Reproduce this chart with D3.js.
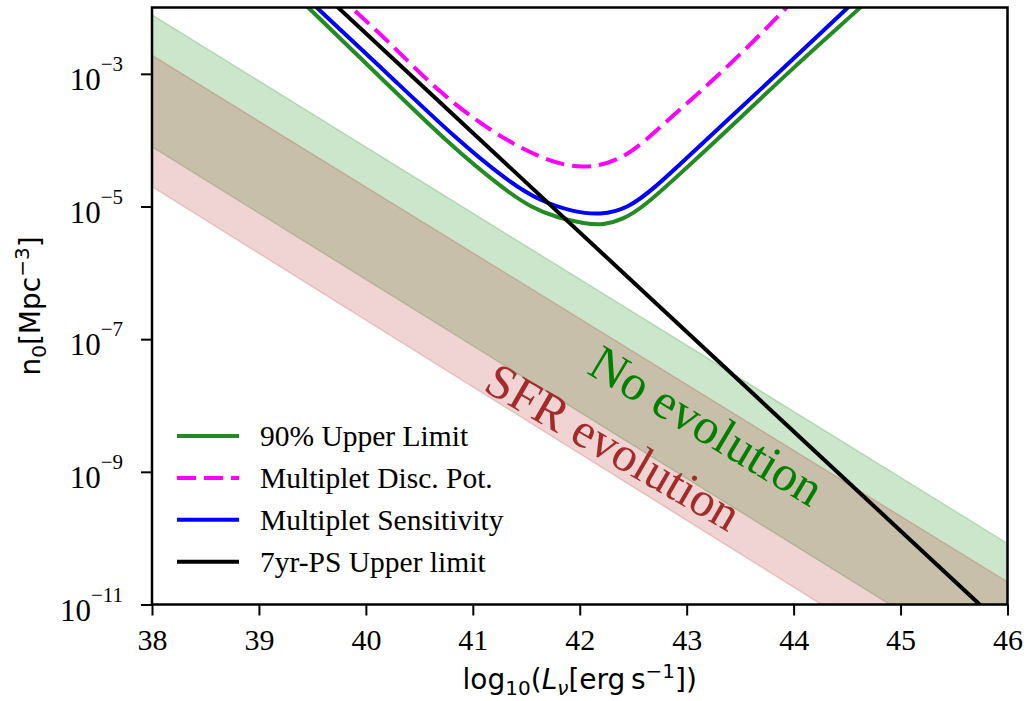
<!DOCTYPE html>
<html>
<head>
<meta charset="utf-8">
<script src="https://cdn.jsdelivr.net/npm/d3@7"></script>
<style>
  body { margin: 0; background: #fff; }
  svg { display: block; }
</style>
</head>
<body>
<script>
'use strict';

// x ticks (log10 L) and y ticks (n0 in Mpc^-3)
const lumTicks = [38, 39, 40, 41, 42, 43, 44, 45, 46];
const densTicks = [1e-3, 1e-5, 1e-7, 1e-9, 1e-11];

// shaded bands, log10(n0) at L = 38 and L = 46
const bandL = [38, 46];
const noEvoHigh = [-2.11, -10.08];
const noEvoLow = [-4.10, -12.10];
const sfrHigh = [-2.72, -10.66];
const sfrLow = [-4.70, -12.75];

// 90% upper limit curve (log10 L, log10 n0)
const ulL = [39.14, 39.46, 40.16, 40.79, 41.29, 41.54, 41.79, 42.05, 42.22, 42.40, 42.60, 42.91, 43.38, 44.00, 44.62, 44.96];
const ulN = [-1.50, -2.00, -3.09, -4.08, -4.74, -5.01, -5.17, -5.26, -5.28, -5.20, -5.00, -4.55, -3.85, -2.90, -2.01, -1.50];

// multiplet discovery potential
const dpL = [39.53, 39.87, 40.23, 40.69, 41.16, 41.63, 42.04, 42.44, 42.75, 43.22, 43.62, 43.93, 44.22];
const dpN = [-1.50, -2.01, -2.54, -3.29, -3.86, -4.28, -4.46, -4.27, -3.80, -3.14, -2.52, -2.01, -1.50];

// multiplet sensitivity
const sensL = [39.21, 39.54, 40.23, 40.85, 41.32, 41.63, 41.94, 42.19, 42.45, 42.70, 43.00, 43.38, 44.00, 44.50, 44.84];
const sensN = [-1.50, -2.00, -3.04, -3.99, -4.61, -4.92, -5.08, -5.13, -5.03, -4.72, -4.27, -3.70, -2.77, -2.01, -1.50];

// 7yr point source upper limit (straight line)
const psL = [39.40, 46.10];
const psN = [-1.49, -11.54];

const legendLabels = ['90% Upper Limit', 'Multiplet Disc. Pot.', 'Multiplet Sensitivity', '7yr-PS Upper limit'];

(function() {
  const width = 1027, height = 701;
  const plot = { left: 152, right: 1007.5, top: 7.5, bottom: 604.5 };
  const serif = '"Liberation Serif", "Times New Roman", serif';
  const sans = '"DejaVu Sans", sans-serif';

  let svg = d3.select('body').append('svg')
    .attr('width', width)
    .attr('height', height);

  let x = d3.scaleLinear().domain([38, 46]).range([plot.left, plot.right]);
  let y = d3.scaleLog().domain([1e-11, 1e-2]).range([plot.bottom, plot.top]);

  svg.append('clipPath').attr('id', 'clip')
    .append('rect')
      .attr('x', plot.left).attr('y', plot.top)
      .attr('width', plot.right - plot.left)
      .attr('height', plot.bottom - plot.top);

  let g = svg.append('g').attr('clip-path', 'url(#clip)');

  // bands
  function band(hi, lo, color) {
    let pts = bandL.map((l, i) => ({ l: l, hi: Math.pow(10, hi[i]), lo: Math.pow(10, lo[i]) }));
    let area = d3.area()
      .x((d) => x(d.l))
      .y0((d) => y(d.lo))
      .y1((d) => y(d.hi));
    g.append('path')
      .datum(pts)
      .attr('d', area)
      .attr('fill', color)
      .attr('fill-opacity', 0.2)
      .attr('stroke', color)
      .attr('stroke-opacity', 0.2)
      .attr('stroke-width', 1.5);
  }
  band(noEvoHigh, noEvoLow, '#008000');
  band(sfrHigh, sfrLow, '#b22222');

  // band labels
  g.append('text')
    .attr('transform', 'translate(698, 440) rotate(31)')
    .attr('text-anchor', 'middle')
    .style('font-family', serif)
    .style('font-size', '50px')
    .attr('fill', '#008000')
    .text('No evolution');

  g.append('text')
    .attr('transform', 'translate(605, 461) rotate(30)')
    .attr('text-anchor', 'middle')
    .style('font-family', serif)
    .style('font-size', '49px')
    .attr('fill', '#a52a2a')
    .text('SFR evolution');

  // curves
  let curves = [
    { L: ulL, N: ulN, color: '#228b22', dash: null },
    { L: dpL, N: dpN, color: '#ff00ff', dash: '19,8' },
    { L: sensL, N: sensN, color: '#0000ff', dash: null },
    { L: psL, N: psN, color: '#000000', dash: null }
  ];

  let line = d3.line()
    .x((d) => x(d[0]))
    .y((d) => y(Math.pow(10, d[1])))
    .curve(d3.curveBasis);

  curves.forEach((c) => {
    g.append('path')
      .datum(c.L.map((l, i) => [l, c.N[i]]))
      .attr('d', line)
      .attr('fill', 'none')
      .attr('stroke', c.color)
      .attr('stroke-width', 4)
      .attr('stroke-dasharray', c.dash);
  });

  // legend
  let legend = svg.append('g');
  curves.forEach((c, i) => {
    let ly = 436 + i * 41.9;
    legend.append('line')
      .attr('x1', 177).attr('x2', 239)
      .attr('y1', ly).attr('y2', ly)
      .attr('stroke', c.color)
      .attr('stroke-width', 4)
      .attr('stroke-dasharray', c.dash);
    legend.append('text')
      .attr('x', 260)
      .attr('y', ly + 10)
      .style('font-family', serif)
      .style('font-size', '29.5px')
      .attr('fill', '#000')
      .text(legendLabels[i]);
  });

  // x axis
  let xAxis = d3.axisBottom(x)
    .tickValues(lumTicks)
    .tickSize(11)
    .tickPadding(13)
    .tickFormat(d3.format('d'));
  let gx = svg.append('g')
    .attr('transform', `translate(0, ${plot.bottom})`)
    .call(xAxis);
  gx.select('.domain').remove();
  gx.selectAll('.tick line').attr('stroke-width', 2);
  gx.selectAll('.tick text')
    .style('font-family', serif)
    .style('font-size', '30px')
    .attr('fill', '#000');

  // y axis
  let yAxis = d3.axisLeft(y)
    .tickValues(densTicks)
    .tickSize(11)
    .tickFormat(() => '');
  let gy = svg.append('g')
    .attr('transform', `translate(${plot.left}, 0)`)
    .call(yAxis);
  gy.select('.domain').remove();
  gy.selectAll('.tick line').attr('stroke-width', 2);
  gy.selectAll('.tick text').each(function(d) {
    let t = d3.select(this)
      .attr('x', -29)
      .attr('dy', null)
      .attr('y', 15.5)
      .attr('text-anchor', 'end')
      .attr('fill', '#000')
      .style('font-family', serif)
      .style('font-size', '31px');
    t.append('tspan').text('10');
    t.append('tspan')
      .attr('dy', -19)
      .style('font-size', '21px')
      .text('\u2212' + Math.round(-Math.log10(d)));
  });

  // frame
  svg.append('rect')
    .attr('x', plot.left).attr('y', plot.top)
    .attr('width', plot.right - plot.left)
    .attr('height', plot.bottom - plot.top)
    .attr('fill', 'none')
    .attr('stroke', '#000')
    .attr('stroke-width', 2.5);

  // axis titles
  let xt = svg.append('text')
    .attr('x', (plot.left + plot.right) / 2)
    .attr('y', 689)
    .attr('text-anchor', 'middle')
    .style('font-family', sans)
    .style('font-size', '28px')
    .attr('fill', '#000');
  xt.append('tspan').text('log');
  xt.append('tspan').attr('dy', 6).style('font-size', '20px').text('10');
  xt.append('tspan').attr('dy', -6).text('(');
  xt.append('tspan').style('font-style', 'italic').text('L');
  xt.append('tspan').attr('dy', 6).style('font-size', '20px').style('font-style', 'italic').text('\u03bd');
  xt.append('tspan').attr('dy', -6).text('[erg\u2009s');
  xt.append('tspan').attr('dy', -11).style('font-size', '20px').text('\u22121');
  xt.append('tspan').attr('dy', 11).text('])');

  let yt = svg.append('text')
    .attr('transform', `translate(40, ${(plot.top + plot.bottom) / 2}) rotate(-90)`)
    .attr('text-anchor', 'middle')
    .style('font-family', sans)
    .style('font-size', '28px')
    .attr('fill', '#000');
  yt.append('tspan').text('n');
  yt.append('tspan').attr('dy', 6).style('font-size', '20px').text('0');
  yt.append('tspan').attr('dy', -6).text('[Mpc');
  yt.append('tspan').attr('dy', -11).style('font-size', '20px').text('\u22123');
  yt.append('tspan').attr('dy', 11).text(']');
})();
</script>
</body>
</html>
